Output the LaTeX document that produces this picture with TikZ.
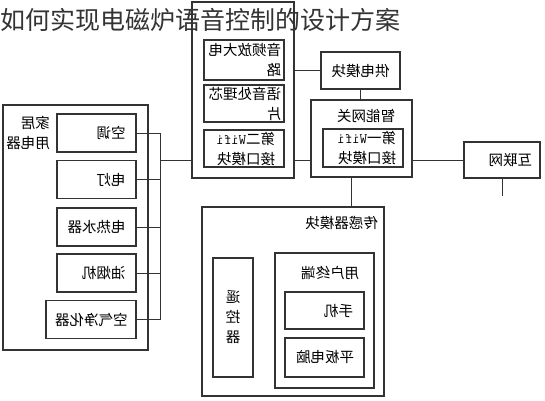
\documentclass[tikz,border=0pt]{standalone}
\usepackage{fontspec}
\usepackage{graphicx}
\newfontfamily\cjk{Noto Sans CJK SC}
% the scanned diagram is mirrored, so every label is mirrored too
\newcommand{\flip}[1]{\reflectbox{#1}}

\begin{document}
\begin{tikzpicture}[x=1pt,y=-1pt,
    every node/.style={font=\cjk\fontsize{14.5}{20}\selectfont, text=black},
    box/.style={draw=black!80, line width=1.2pt, inner sep=0pt},
    unit/.style={box, minimum width=79pt, minimum height=38pt,
                 text width=58pt, inner xsep=10pt, align=right},
    chipbox/.style={box, minimum width=80pt, minimum height=38pt,
                 text width=74pt, inner xsep=3pt, align=right},
    lbl/.style={inner sep=0pt},
    wire/.style={draw=black!80, line width=0.9pt}]
\useasboundingbox (0,0) rectangle (545,400);

% home appliances
\node[box, minimum width=145pt, minimum height=245pt] (home) at (75.5,227.5) {};
\node[lbl, anchor=east, align=right] (hometxt) at (50,133) {\flip{家居}\\\flip{用电器}};
\node[unit] (kt)  at (96.5,133)   {\flip{空调}};
\node[unit] (dd)  at (96.5,179.5) {\flip{电灯}};
\node[unit] (rsq) at (96.5,227)   {\flip{电热水器}};
\node[unit] (yyj) at (96.5,273)   {\flip{油烟机}};
\node[unit, minimum width=90pt, text width=73pt, inner xsep=8pt] (jhq) at (91,319.5) {\flip{空气净化器}};

% voice control box
\node[box, minimum width=102pt, minimum height=176pt] (ctrl) at (243,90) {};
\node[chipbox, minimum height=40pt] (amp) at (244,60) {\flip{音频放大电}\\\flip{路}};
\node[chipbox, minimum height=37pt] (chip) at (244,103.5) {\flip{语音处理芯}\\\flip{片}};
\node[chipbox, minimum height=37pt, text width=62pt, inner xsep=9pt] (wifi2) at (244,148.5)
    {\flip{第二\texttt{Wifi}}\\\flip{接口模块}};

% power, gateway, internet
\node[unit, minimum height=37pt, align=center] (pwr) at (360.5,70.5) {\flip{供电模块}};
\node[box, minimum width=101pt, minimum height=77pt] (gw) at (361.5,138.5) {};
\node[lbl] (gwtxt) at (366,116) {\flip{智能网关}};
\node[chipbox, text width=66pt, inner xsep=7pt] (wifi1) at (363,148)
    {\flip{第一\texttt{Wifi}}\\\flip{接口模块}};
\node[box, minimum width=76pt, minimum height=36pt, text width=60pt, inner xsep=8pt, align=right] (inet) at (502,160) {\flip{互联网}};

% sensors and terminals
\node[box, minimum width=182pt, minimum height=189pt] (sensor) at (293,301.5) {};
\node[lbl] (sensortxt) at (341.5,223) {\flip{传感器模块}};
\node[box, minimum width=40pt, minimum height=119pt, align=center] (rc) at (233,317.5)
    {\flip{遥}\\\flip{控}\\\flip{器}};
\node[box, minimum width=99pt, minimum height=135pt] (term) at (324.5,320.5) {};
\node[lbl] (termtxt) at (330,273) {\flip{用户终端}};
\node[unit, minimum height=37pt, text width=57pt, inner xsep=11pt] (phone) at (324.5,310.5) {\flip{手机}};
\node[unit, minimum height=39pt, text width=57pt, inner xsep=11pt] (pad) at (324.5,357.5) {\flip{平板电脑}};

% wiring
\coordinate (bustop) at (160,133);
\coordinate (busbot) at (160,319.5);
\coordinate (busjoin) at (160,160);
\coordinate (inetend) at (502,196);
\foreach \d in {kt,dd,rsq,yyj,jhq}
    \draw[wire] (\d.east) -- (\d.east -| bustop);
\draw[wire] (bustop) -- (busbot);
\draw[wire] (busjoin) -- (busjoin -| ctrl.west);
\draw[wire] (busjoin -| ctrl.east) -- (busjoin -| gw.west);
\draw[wire] (pwr.west) -- (pwr.west -| ctrl.east);
\draw[wire] (pwr.south) -- (pwr.south |- gw.north);
\draw[wire] (busjoin -| gw.east) -- (busjoin -| inet.west);
\draw[wire] ([xshift=-10.5pt]gw.south) -- ([xshift=-10.5pt]gw.south |- sensor.north);
\draw[wire] (inet.south) -- (inetend);

% title on top
\node[anchor=west, inner sep=0pt, font=\cjk\fontsize{25}{25}\selectfont, text=black!80] (title) at (0,20)
    {如何实现电磁炉语音控制的设计方案};
\end{tikzpicture}
\end{document}
